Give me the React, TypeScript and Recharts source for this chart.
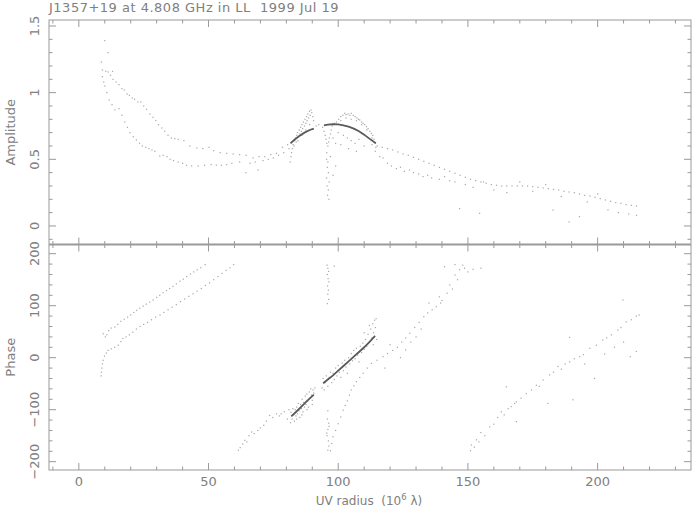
import React from 'react';
import { ScatterChart, Scatter, XAxis, YAxis } from 'recharts';

// ---------- data (u in 10^6 lambda) ----------
const X_TICKS = [-10,0,10,20,30,40,50,60,70,80,90,100,110,120,130,140,150,160,170,180,190,200,210,220,230];
const AMP_TICKS = [-0.1,0,0.1,0.2,0.3,0.4,0.5,0.6,0.7,0.8,0.9,1,1.1,1.2,1.3,1.4,1.5];
const PH_TICKS = [-200,-180,-160,-140,-120,-100,-80,-60,-40,-20,0,20,40,60,80,100,120,140,160,180,200];

const AMP_LEFT_UPPER = [[8.7,1.23],[9.1,1.17],[10.0,1.39],[10.4,1.16],[11.3,1.30],[11.3,1.155],[12.2,1.13],[13.0,1.16],[13.2,1.10],[14.4,1.08],[15.5,1.06],[16.6,1.03],[17.5,1.02],[18.6,0.99],[19.5,0.98],[20.6,0.96],[21.5,0.95],[22.8,0.93],[23.9,0.93],[25.0,0.90],[26.1,0.875],[27.4,0.84],[28.6,0.815],[29.7,0.79],[30.7,0.76],[32.0,0.735],[33.1,0.71],[34.4,0.68],[35.7,0.66],[37.0,0.655],[38.3,0.65],[40.5,0.64],[42.8,0.60],[45.5,0.585],[47.8,0.58],[50.2,0.59],[52.0,0.565],[54.5,0.55],[57.0,0.545],[59.5,0.54],[62.0,0.535],[64.5,0.53],[67.2,0.51],[69.5,0.52],[71.7,0.52],[74.0,0.535],[76.2,0.545],[78.5,0.59],[80.5,0.61]];
const AMP_LEFT_LOWER = [[9.1,1.12],[9.6,1.08],[10.0,1.05],[10.8,1.00],[11.7,0.945],[12.8,0.91],[13.9,0.87],[15.5,0.88],[16.6,0.83],[17.7,0.78],[18.7,0.74],[19.7,0.70],[21.0,0.67],[22.2,0.645],[23.4,0.62],[24.5,0.60],[25.8,0.59],[27.0,0.58],[28.2,0.57],[29.3,0.56],[31.2,0.525],[32.5,0.53],[34.0,0.52],[35.2,0.50],[36.5,0.49],[38.3,0.48],[40.0,0.47],[41.5,0.455],[43.5,0.45],[46.0,0.45],[48.5,0.455],[51.0,0.46],[53.0,0.457],[55.0,0.455],[57.0,0.46],[59.0,0.47],[62.0,0.48],[64.4,0.40],[66.0,0.47],[68.0,0.48],[69.1,0.42],[71.0,0.49],[73.0,0.50],[75.0,0.51],[77.0,0.53],[79.0,0.55],[81.0,0.58]];
const AMP_CLUSTER = [[81.5,0.48],[81.8,0.52],[82.0,0.55],[82.3,0.58],[82.6,0.61],[83.0,0.60],[83.2,0.64],[83.5,0.66],[83.8,0.63],[84.0,0.68],[84.3,0.70],[84.6,0.67],[85.0,0.72],[85.2,0.69],[85.5,0.74],[85.8,0.71],[86.0,0.76],[86.3,0.73],[86.6,0.78],[87.0,0.75],[87.2,0.80],[87.5,0.77],[87.8,0.82],[88.0,0.79],[88.3,0.84],[88.6,0.81],[88.9,0.86],[89.2,0.83],[89.5,0.87],[89.8,0.85],[90.2,0.82],[90.5,0.79],[84.5,0.64],[86.0,0.68],[87.5,0.72],[89.0,0.76],[91.5,0.75],[92.5,0.76],
[94.0,0.74],[94.5,0.71],[95.0,0.68],[95.3,0.65],[95.6,0.62],[96.0,0.60],[96.3,0.63],[96.6,0.66],[97.0,0.69],[97.3,0.72],[97.7,0.75],[95.5,0.50],[96.0,0.48],[95.8,0.44],[96.2,0.40],[95.5,0.36],[96.5,0.33],[95.7,0.30],[96.2,0.27],[95.9,0.23],[96.4,0.20],[95.6,0.55],[97.0,0.52],[98.0,0.38],[99.0,0.45],
[98.5,0.77],[99.3,0.78],[100.2,0.80],[101.0,0.82],[101.8,0.83],[102.5,0.845],[103.0,0.835],[103.8,0.84],[104.5,0.83],[105.0,0.845],[105.8,0.83],[106.5,0.82],[107.2,0.81],[107.8,0.80],[108.3,0.795],[109.0,0.78],[109.6,0.77],[110.2,0.76],[110.9,0.745],[111.5,0.73],[112.2,0.71],[112.8,0.695],[113.3,0.68],[113.8,0.65],[114.3,0.62],[114.5,0.59],[114.3,0.56],[101.0,0.79],[103.0,0.81],[105.0,0.80],[107.0,0.79],[109.0,0.76],[111.0,0.72],[113.0,0.66],
[100.0,0.70],[102.0,0.68],[103.5,0.66],[105.0,0.64],[106.5,0.62],[108.0,0.65],[101.0,0.61],[104.0,0.58],[107.0,0.56],[110.0,0.60],[99.0,0.62],[98.0,0.66]];
const AMP_RIGHT = [[113,0.61],[115,0.60],[117,0.59],[119,0.58],[121,0.57],[123,0.555],[125,0.54],[127,0.53],[129,0.515],[131,0.50],[133,0.485],[135,0.47],[137,0.455],[139,0.44],[141,0.425],[143,0.41],[145,0.395],[147,0.38],[149,0.365],[151,0.35],[153,0.34],[155,0.33],[157,0.32],[159,0.31],[161,0.305],[163,0.30],[165,0.30],[167,0.30],[169,0.30],[171,0.30],[173,0.30],[175,0.295],[177,0.29],[179,0.285],[181,0.28],[183,0.275],[185,0.27],[187,0.26],[189,0.255],[191,0.25],[193,0.24],[195,0.23],[197,0.225],[199,0.215],[201,0.205],[203,0.195],[205,0.185],[207,0.175],[209,0.17],[211,0.16],[213,0.155],[215,0.15]];
const AMP_RIGHT_LOW = [[116,0.52],[117.3,0.51],[119,0.47],[120.5,0.45],[122.4,0.43],[124,0.44],[125.5,0.41],[127.5,0.42],[129,0.40],[131,0.39],[132.7,0.37],[134.5,0.38],[136,0.36],[139,0.35],[141,0.37],[143,0.34],[145,0.33],[146.8,0.13],[149,0.31],[152,0.29],[154.5,0.095],[156,0.33],[160,0.27],[165,0.25],[170,0.33],[175,0.26],[180,0.31],[182.8,0.12],[186,0.22],[189,0.03],[193,0.07],[196,0.18],[200,0.24],[204,0.12],[208,0.10],[212,0.09],[215,0.08]];
const AMP_MODEL_1 = [[81.6,0.62],[83,0.645],[85,0.675],[87,0.70],[89,0.72],[90.6,0.73]];
const AMP_MODEL_2 = [[94.5,0.755],[96,0.76],[98,0.763],[100,0.762],[102,0.755],[104,0.745],[106,0.73],[108,0.71],[110,0.685],[112,0.655],[114.5,0.62]];

const PH_LEFT_A = [[9.4,46],[10.2,40],[10.8,44],[11.5,52],[12.5,57],[13.9,59],[15.0,64],[16.2,70],[17.5,74],[18.8,78],[20.0,82],[21.2,87],[22.3,91],[23.5,95],[24.8,99],[26.0,103],[27.3,107],[28.6,111],[30.0,116],[31.2,120],[32.5,125],[33.8,129],[35.0,133],[36.3,137],[37.6,142],[39.0,147],[40.3,151],[41.6,156],[43.0,161],[44.3,165],[45.6,169],[47.0,173],[48.7,179]];
const PH_LEFT_B = [[8.6,-35],[8.7,-28],[8.9,-20],[9.1,-12],[9.4,-5],[9.9,3],[10.6,9],[11.3,14],[12.5,17],[13.8,20],[15.2,24],[16.2,31],[17.0,37],[18.2,40],[19.5,44],[20.8,49],[22.2,55],[23.6,60],[25.0,64],[26.5,68],[28.0,73],[29.6,78],[31.3,82],[32.8,87],[34.4,92],[36.0,97],[37.6,102],[39.2,108],[40.8,113],[42.4,118],[44.0,123],[45.6,128],[47.2,133],[48.8,139],[50.4,144],[52.0,150],[53.6,156],[55.2,162],[56.8,168],[58.3,173],[59.7,179]];
const PH_WRAP_B = [[61.5,-178],[62.2,-173],[63.2,-166],[64.0,-159],[64.8,-162],[65.6,-150],[66.6,-143],[67.6,-146],[69.0,-140],[70.0,-135],[71.3,-130],[72.3,-122],[73.6,-111],[74.8,-115],[76.2,-108],[77.3,-112],[78.0,-108],[79.2,-104],[80.4,-118],[81.0,-100]];
const PH_CLUSTER_1 = [[81.6,-125],[81.8,-105],[82.2,-118],[82.5,-98],[82.8,-110],[83.1,-122],[83.4,-100],[83.7,-112],[84.0,-95],[84.3,-108],[84.6,-88],[84.9,-102],[85.2,-115],[85.5,-90],[85.8,-98],[86.1,-80],[86.4,-104],[86.7,-86],[87.0,-95],[87.3,-74],[87.6,-90],[87.9,-70],[88.2,-84],[88.5,-95],[88.8,-66],[89.1,-78],[89.4,-60],[89.7,-72],[90.0,-82],[90.3,-62],[90.6,-68],[91.0,-58],[84.0,-118],[86.0,-110],[88.0,-100],[90.0,-90]];
const PH_CLUSTER_2 = [[93.8,-58],[94.2,-40],[94.6,-62],[95.0,-48],[95.4,-35],[96.0,-55],[96.5,-38],[97.0,-28],[97.5,-48],[98.0,-30],[98.5,-42],[99.0,-20],[99.5,-35],[100.0,-15],[100.5,-28],[101.0,-38],[101.5,-10],[102.0,-25],[102.5,-5],[103.0,-18],[103.5,-30],[104.0,0],[104.5,-12],[105.0,8],[105.5,-6],[106.0,14],[106.5,-2],[107.0,18],[107.5,5],[108.0,-8],[108.5,22],[109.0,10],[109.5,28],[110.0,16],[110.5,35],[111.0,22],[111.5,45],[112.0,30],[112.5,55],[113.0,38],[113.3,65],[113.6,48],[114.0,72],[114.3,58],[114.6,75],[114.8,35],[112.0,62],[110.0,48],[113.5,25]];
const PH_VERTICAL = [[95.7,178],[96.0,172],[96.3,166],[95.8,160],[96.1,152],[96.4,146],[95.9,138],[96.2,130],[96.0,122],[96.3,112],[95.8,104],[98.5,176],[96.0,-102],[95.8,-118],[96.3,-126],[96.0,-138],[95.7,-150],[96.2,-160],[96.4,-170],[96.0,-178],[95.6,-145],[96.5,-132]];
const PH_TRACK_C = [[97.0,-179],[97.5,-165],[98.0,-152],[99.0,-140],[100.0,-127],[101.0,-114],[101.9,-101],[102.7,-92],[103.5,-83],[104.3,-72],[105.0,-62],[106.0,-54],[107.0,-46],[108.3,-38],[109.6,-30],[111.2,-20],[112.8,-11],[115.0,-5],[117.3,2],[119.0,8],[121.0,14],[122.8,20],[124.5,30],[126.0,38],[127.6,47],[129.5,58],[131.2,68],[133.0,79],[134.5,86],[136.2,92],[137.8,98],[139.0,117],[140.0,110],[142.0,124],[143.0,140],[144.0,132],[145.0,159],[146.0,150],[146.8,169],[148.7,172],[150.0,165],[152.0,170],[155.0,172],[141.0,175],[145.0,179],[148.0,178],[139.5,105],[118,-20],[120,25],[124,0],[128,30],[132,55],[135,105],[130,40],[126,15]];
const PH_TRACK_D = [[151.0,-179],[151.3,-168],[152.5,-172],[153.3,-158],[154.2,-162],[155.0,-144],[156.5,-150],[158.4,-133],[160.0,-128],[161.5,-115],[162.9,-104],[164.0,-110],[164.8,-56],[165.5,-98],[166.7,-94],[168.0,-88],[168.7,-123],[168.7,-85],[170.5,-78],[172.5,-69],[174.5,-62],[176.4,-53],[177.5,-55],[179.0,-43],[180.8,-88],[181.5,-33],[183.0,-28],[184.7,-17],[186.0,-22],[187.5,-12],[189.2,-8],[189.2,39],[190.5,-81],[191.0,-2],[193.1,2],[194.5,6],[195.0,-12],[197.0,18],[198.8,-40],[199.5,24],[202.0,34],[202.7,7],[203.5,38],[205.3,44],[206.5,20],[207.8,53],[209.0,58],[209.8,111],[210.0,30],[211.0,69],[212.6,2],[213.0,73],[214.9,80],[214.9,12],[216.0,82]];
const PH_MODEL_1 = [[81.9,-113],[84,-103],[86,-93],[88,-83],[90.6,-71]];
const PH_MODEL_2 = [[94.2,-49],[96,-42],[98,-34],[100,-25],[102,-16],[104,-7],[106,2],[108,11],[110,20],[112,30],[114.2,42]];

// ---------- layout / style ----------
const W = 693, H = 511;
const L = 49, R = 691, T = 20, M = 244.5, B = 470;
const X_DOMAIN: [number, number] = [-11.5, 236];
const AMP_DOMAIN: [number, number] = [-0.139, 1.545];
const PH_DOMAIN: [number, number] = [-216, 217.7];
const FRAME = '#9a9a9a';
const TXT = '#808080';
const FONT = 'DejaVu Sans';
const PT = '#a6a6a6';
const MODEL = '#5a5a5a';

const toPts = (a: number[][]) => a.map(([x, y]) => ({ x, y }));

const Dot = (p: any) => (
  <rect x={p.cx - 0.6} y={p.cy - 0.6} width={1.2} height={1.2} fill={PT} />
);
const NoDot = () => <g />;

const makeXTick = (top: number, bottom: number, labels: boolean) => (props: any) => {
  const { x, payload } = props;
  const v = payload.value;
  const major = v % 50 === 0;
  const len = major ? 7 : 3.5;
  return (
    <g>
      <line x1={x} x2={x} y1={bottom} y2={bottom - len} stroke={FRAME} />
      <line x1={x} x2={x} y1={top} y2={top + len} stroke={FRAME} />
      {labels && major ? (
        <text x={x} y={bottom + 16} textAnchor="middle" fontFamily={FONT} fontSize={13} fill={TXT}>{v}</text>
      ) : null}
    </g>
  );
};

const makeYTick = (isMajor: (v: number) => boolean, fmt: (v: number) => string) => (props: any) => {
  const { y, payload } = props;
  const v = payload.value;
  const major = isMajor(v);
  const len = major ? 7 : 3.5;
  return (
    <g>
      <line x1={L} x2={L + len} y1={y} y2={y} stroke={FRAME} />
      <line x1={R} x2={R - len} y1={y} y2={y} stroke={FRAME} />
      {major ? (
        <text x={39} y={y} transform={`rotate(-90 39 ${y})`} textAnchor="middle" fontFamily={FONT} fontSize={13} fill={TXT}>{fmt(v)}</text>
      ) : null}
    </g>
  );
};

const ampMajor = (v: number) => Math.abs(v * 2 - Math.round(v * 2)) < 1e-6;
const ampFmt = (v: number) => (Math.abs(v) < 1e-9 ? '0' : String(Math.round(v * 10) / 10));
const phMajor = (v: number) => v % 100 === 0;
const phFmt = (v: number) => (v < 0 ? '\u2212' + String(-v) : String(v));

export default function App() {
  return (
    <div style={{ position: 'absolute', left: 0, top: 0, width: W, height: H, background: '#fff' }}>
      <div style={{ position: 'absolute', left: 0, top: 0 }}>
        <ScatterChart width={W} height={M + 1.5} margin={{ top: T, right: W - R - 1, bottom: 0.5, left: L - 1 }}>
          <XAxis type="number" dataKey="x" domain={X_DOMAIN} ticks={X_TICKS} interval={0} height={1}
            axisLine={false} tickLine={false} tickSize={0} tickMargin={0} allowDataOverflow tick={makeXTick(T, M, false)} />
          <YAxis type="number" dataKey="y" domain={AMP_DOMAIN} ticks={AMP_TICKS} interval={0} width={1}
            axisLine={false} tickLine={false} tickSize={0} tickMargin={0} allowDataOverflow tick={makeYTick(ampMajor, ampFmt)} />
          <YAxis yAxisId="r" orientation="right" type="number" domain={AMP_DOMAIN} width={1} tick={false} axisLine={false} tickLine={false} />
          <Scatter data={toPts(AMP_LEFT_UPPER)} shape={Dot} isAnimationActive={false} />
          <Scatter data={toPts(AMP_LEFT_LOWER)} shape={Dot} isAnimationActive={false} />
          <Scatter data={toPts(AMP_CLUSTER)} shape={Dot} isAnimationActive={false} />
          <Scatter data={toPts(AMP_RIGHT)} shape={Dot} isAnimationActive={false} />
          <Scatter data={toPts(AMP_RIGHT_LOW)} shape={Dot} isAnimationActive={false} />
          <Scatter data={toPts(AMP_MODEL_1)} shape={NoDot} line={{ stroke: MODEL, strokeWidth: 1.8 }} isAnimationActive={false} />
          <Scatter data={toPts(AMP_MODEL_2)} shape={NoDot} line={{ stroke: MODEL, strokeWidth: 1.8 }} isAnimationActive={false} />
        </ScatterChart>
      </div>
      <div style={{ position: 'absolute', left: 0, top: 0 }}>
        <ScatterChart width={W} height={H} margin={{ top: M, right: W - R - 1, bottom: H - B - 1, left: L - 1 }}>
          <XAxis type="number" dataKey="x" domain={X_DOMAIN} ticks={X_TICKS} interval={0} height={1}
            axisLine={false} tickLine={false} tickSize={0} tickMargin={0} allowDataOverflow tick={makeXTick(M, B, true)} />
          <YAxis type="number" dataKey="y" domain={PH_DOMAIN} ticks={PH_TICKS} interval={0} width={1}
            axisLine={false} tickLine={false} tickSize={0} tickMargin={0} allowDataOverflow tick={makeYTick(phMajor, phFmt)} />
          <YAxis yAxisId="r" orientation="right" type="number" domain={PH_DOMAIN} width={1} tick={false} axisLine={false} tickLine={false} />
          <Scatter data={toPts(PH_LEFT_A)} shape={Dot} isAnimationActive={false} />
          <Scatter data={toPts(PH_LEFT_B)} shape={Dot} isAnimationActive={false} />
          <Scatter data={toPts(PH_WRAP_B)} shape={Dot} isAnimationActive={false} />
          <Scatter data={toPts(PH_CLUSTER_1)} shape={Dot} isAnimationActive={false} />
          <Scatter data={toPts(PH_CLUSTER_2)} shape={Dot} isAnimationActive={false} />
          <Scatter data={toPts(PH_VERTICAL)} shape={Dot} isAnimationActive={false} />
          <Scatter data={toPts(PH_TRACK_C)} shape={Dot} isAnimationActive={false} />
          <Scatter data={toPts(PH_TRACK_D)} shape={Dot} isAnimationActive={false} />
          <Scatter data={toPts(PH_MODEL_1)} shape={NoDot} line={{ stroke: MODEL, strokeWidth: 1.8 }} isAnimationActive={false} />
          <Scatter data={toPts(PH_MODEL_2)} shape={NoDot} line={{ stroke: MODEL, strokeWidth: 1.8 }} isAnimationActive={false} />
        </ScatterChart>
      </div>
      <svg width={W} height={H} style={{ position: 'absolute', left: 0, top: 0, pointerEvents: 'none' }}>
        <rect x={L} y={T} width={R - L} height={B - T} fill="none" stroke={FRAME} strokeWidth={1} />
        <line x1={L} x2={R} y1={M} y2={M} stroke={FRAME} strokeWidth={2} />
        <text x={L} y={12} fontFamily={FONT} fontSize={13} letterSpacing={0.5} fill={TXT} style={{ whiteSpace: 'pre' }}>J1357+19 at 4.808 GHz in LL  1999 Jul 19</text>
        <text x={15} y={(T + M) / 2} transform={`rotate(-90 15 ${(T + M) / 2})`} textAnchor="middle" fontFamily={FONT} fontSize={13} fill={TXT}>Amplitude</text>
        <text x={15} y={(M + B) / 2} transform={`rotate(-90 15 ${(M + B) / 2})`} textAnchor="middle" fontFamily={FONT} fontSize={13} fill={TXT}>Phase</text>
        <text x={369} y={505} textAnchor="middle" fontFamily={FONT} fontSize={12} fill={TXT} style={{ whiteSpace: 'pre' }}>
          UV radius  (10<tspan dy={-5} fontSize={8.5}>6</tspan><tspan dy={5}> λ)</tspan>
        </text>
      </svg>
    </div>
  );
}
